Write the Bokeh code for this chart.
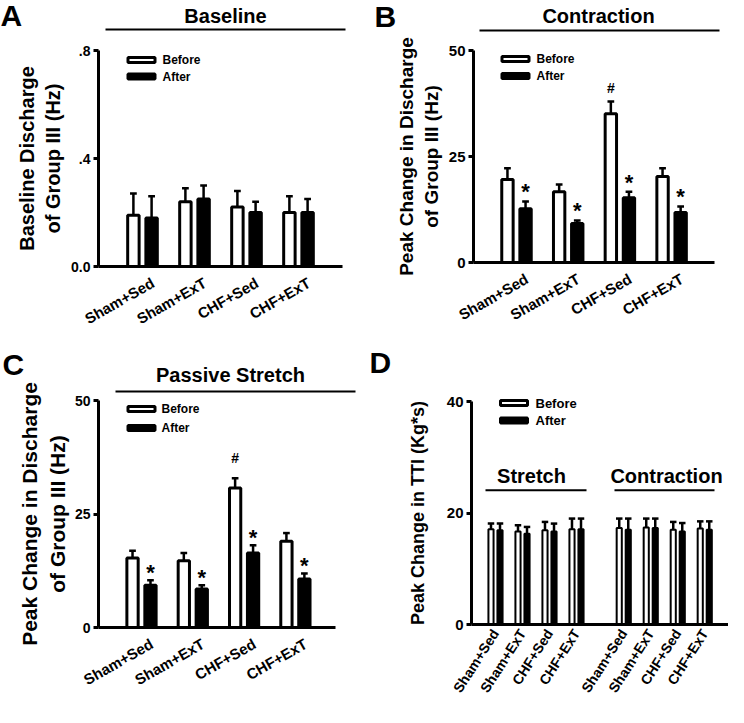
from bokeh.plotting import figure
from bokeh.layouts import column, row
from bokeh.models import Range1d, FixedTicker, Label
from bokeh.embed import file_html
from bokeh.resources import INLINE
from bokeh.core.properties import value

FONT = "Liberation Sans"

# ---------------- data ----------------
groups = ["Sham+Sed", "Sham+ExT", "CHF+Sed", "CHF+ExT"]

# A: baseline discharge (Hz)
a_before = [0.19, 0.24, 0.22, 0.20]
a_before_sem = [0.08, 0.05, 0.06, 0.06]
a_after = [0.18, 0.25, 0.20, 0.20]
a_after_sem = [0.08, 0.05, 0.04, 0.05]

# B: contraction, peak change (Hz)
b_before = [19.6, 16.7, 35.1, 20.3]
b_before_sem = [2.6, 1.7, 2.9, 1.9]
b_after = [12.7, 9.2, 15.3, 11.8]
b_after_sem = [1.7, 0.7, 1.4, 1.4]
b_star_after = [True, True, True, True]
b_hash_before = [False, False, True, False]

# C: passive stretch, peak change (Hz)
c_before = [15.3, 14.7, 30.7, 19.0]
c_before_sem = [1.6, 1.7, 2.2, 1.8]
c_after = [9.3, 8.5, 16.4, 10.7]
c_after_sem = [1.1, 0.8, 1.7, 1.2]
c_star_after = [True, True, True, True]
c_hash_before = [False, False, True, False]

# D: TTI (Kg*s)
d_stretch_before = [17.1, 16.7, 16.9, 17.1]
d_stretch_before_sem = [1.0, 1.1, 1.5, 1.9]
d_stretch_after = [16.9, 16.3, 16.7, 17.1]
d_stretch_after_sem = [1.2, 1.2, 1.4, 1.9]
d_contr_before = [17.3, 17.4, 17.0, 17.2]
d_contr_before_sem = [1.7, 1.6, 1.4, 1.3]
d_contr_after = [17.0, 17.3, 16.7, 17.0]
d_contr_after_sem = [2.0, 1.7, 1.5, 1.5]

y_ticks_a = [0, 0.4, 0.8]
y_tick_labels_a = ["0.0", ".4", ".8"]
y_ticks_bc = [0, 25, 50]
y_ticks_d = [0, 20, 40]

# ---------------- layout helpers ----------------
GAP_D = 0.75      # extra space between the two blocks of panel D
BASE_FIX = 0.3    # em: lift of text drawn with an alphabetic baseline
STAR_FS, HASH_FS, TITLE_FS, LETTER_FS = 22, 14, 20, 30


def make_panel(cfg):
    W, H = cfg["size"]
    ox, oy = cfg["offset"]
    g1, ppu = cfg["g1_px"], cfg["ppu"]
    y0px, ymax, ymaxpx = cfg["y0_px"], cfg["ymax"], cfg["ymax_px"]
    ky = ymax / (y0px - ymaxpx)

    def X(px):
        return 1 + (px - g1) / ppu

    def Y(py):
        return (y0px - py) * ky

    # the frame covers the whole figure; both axes are pinned in place
    x_axis0 = X(cfg["frame_left"])

    p = figure(width=W, height=H, x_range=Range1d(X(ox), X(ox + W)),
               y_range=Range1d(Y(oy + H), Y(oy)), output_backend="svg",
               toolbar_location=None, min_border_left=0,
               min_border_right=0, min_border_top=0, min_border_bottom=0)
    p.grid.visible = False
    p.outline_line_color = None
    p.background_fill_color = "white"
    p.border_fill_color = "white"

    bw, off, lw = cfg["bar_w"], cfg["bar_off"], cfg["bar_lw"]
    capw = cfg["cap_w"]
    pos = cfg["positions"]
    xb = [x - off for x in pos]
    xa = [x + off for x in pos]
    before, bsem = cfg["before"], cfg["before_sem"]
    after, asem = cfg["after"], cfg["after_sem"]

    p.vbar(x=xb, top=before, bottom=0, width=bw, fill_color="white",
           line_color="black", line_width=lw)
    p.vbar(x=xa, top=after, bottom=0, width=bw, fill_color="black",
           line_color="black", line_width=lw)
    for xs, m, s in ((xb, before, bsem), (xa, after, asem)):
        tops = [mi + si for mi, si in zip(m, s)]
        p.segment(x0=xs, y0=m, x1=xs, y1=tops, line_color="black",
                  line_width=cfg["err_lw"])
        p.segment(x0=[x - capw / 2 for x in xs], y0=tops,
                  x1=[x + capw / 2 for x in xs], y1=tops,
                  line_color="black", line_width=cfg["err_lw"])

    # significance markers
    if cfg.get("stars"):
        sx, sy = [], []
        lift = (cfg["star_off"] + BASE_FIX * STAR_FS) * ky
        for x, m, s, flag in zip(xa, after, asem, cfg["stars"]):
            if flag:
                sx.append(x)
                sy.append(m + s + lift)
        p.text(x=sx, y=sy, text=["*"] * len(sx), text_font=value(FONT),
               text_font_size=f"{STAR_FS}px", text_font_style="bold",
               text_align="center", text_baseline="alphabetic",
               text_color="black")
    if cfg.get("hashes"):
        hx, hy = [], []
        lift = (cfg["hash_off"] + BASE_FIX * HASH_FS) * ky
        for x, m, s, flag in zip(xb, before, bsem, cfg["hashes"]):
            if flag:
                hx.append(x)
                hy.append(m + s + lift)
        p.text(x=hx, y=hy, text=["#"] * len(hx), text_font=value(FONT),
               text_font_size=f"{HASH_FS}px", text_font_style="bold",
               text_align="center", text_baseline="alphabetic",
               text_color="black")

    # legend (drawn)
    lx, ly1, ly2, tx = cfg["legend"]
    p.rect(x=[X(lx)], y=[Y(ly1)], width=27, height=5, width_units="screen",
           height_units="screen", fill_color="white", line_color="black",
           line_width=3)
    p.rect(x=[X(lx)], y=[Y(ly2)], width=27, height=5, width_units="screen",
           height_units="screen", fill_color="black", line_color="black",
           line_width=3)
    p.text(x=[X(tx), X(tx)], y=[Y(ly1), Y(ly2)], text=["Before", "After"],
           text_font=value(FONT), text_font_size=cfg["legend_fs"],
           text_font_style="bold", text_align="left", text_baseline="middle",
           text_color="black")

    # titles with underline
    for (ttext, tcx, tby, lx0, lx1, lyy) in cfg["titles"]:
        p.add_layout(Label(x=X(tcx), y=Y(tby - BASE_FIX * TITLE_FS),
                           text=ttext, text_font=FONT,
                           text_font_size=f"{TITLE_FS}px",
                           text_font_style="bold", text_align="center",
                           text_baseline="alphabetic", text_color="black"))
        p.line(x=[X(lx0), X(lx1)], y=[Y(lyy), Y(lyy)], line_color="black",
               line_width=2)

    # panel letter
    lt, lpx, lpy = cfg["letter"]
    p.add_layout(Label(x=X(lpx), y=Y(lpy - BASE_FIX * LETTER_FS), text=lt,
                       text_font=FONT, text_font_size=f"{LETTER_FS}px",
                       text_font_style="bold", text_align="left",
                       text_baseline="alphabetic", text_color="black"))

    # axes
    yax = p.yaxis[0]
    yax.fixed_location = x_axis0
    yax.ticker = FixedTicker(ticks=cfg["yticks"])
    yax.major_label_overrides = {t: l for t, l in zip(cfg["yticks"], cfg["ytick_labels"])}
    yax.bounds = (0, ymax)
    yax.axis_line_width = 3
    yax.axis_line_color = "black"
    yax.major_tick_line_width = 3
    yax.major_tick_out = 5
    yax.major_tick_in = 0
    yax.minor_tick_line_color = None
    yax.major_label_text_font = FONT
    yax.major_label_text_font_style = "bold"
    yax.major_label_text_font_size = cfg["ytick_fs"]
    yax.major_label_text_color = "black"
    yax.major_label_standoff = 3
    yax.axis_label = cfg["ylabel"]
    yax.axis_label_text_font = FONT
    yax.axis_label_text_font_style = "bold"
    yax.axis_label_text_font_size = cfg["ylabel_fs"]
    yax.axis_label_text_color = "black"
    yax.axis_label_standoff = cfg["ylabel_standoff"]

    xax = p.xaxis[0]
    xax.fixed_location = 0
    shift = cfg["xtick_shift"]
    xax.ticker = FixedTicker(ticks=[float(v) + shift for v in pos])
    xax.major_label_overrides = {float(v) + shift: n for v, n in zip(pos, cfg["xlabels"])}
    xax.major_label_orientation = cfg["xangle"]
    xax.major_tick_line_color = None
    xax.major_tick_out = 0
    xax.major_tick_in = 0
    xax.minor_tick_line_color = None
    xax.bounds = (x_axis0, X(cfg["axis_end"]))
    xax.axis_line_width = 3
    xax.axis_line_color = "black"
    xax.major_label_text_font = FONT
    xax.major_label_text_font_style = "bold"
    xax.major_label_text_font_size = cfg["xtick_fs"]
    xax.major_label_text_color = "black"
    xax.major_label_standoff = cfg["xstandoff"]
    return p


pos4 = [1, 2, 3, 4]
pos8 = pos4 + [v + 4 + GAP_D for v in pos4]

pA = make_panel(dict(
    size=(364, 344), offset=(0, 0), g1_px=142, ppu=52, y0_px=266, ymax=0.8,
    ymax_px=50, frame_left=98, axis_end=342,
    positions=pos4, xlabels=groups, before=a_before, before_sem=a_before_sem,
    after=a_after, after_sem=a_after_sem,
    bar_w=0.22, bar_off=0.175, bar_lw=3, cap_w=0.13, err_lw=2.5,
    legend=(141, 59.5, 76, 162), legend_fs="12px",
    titles=[("Baseline", 225, 21.3, 105, 345, 29)],
    letter=("A", 0, 23.5),
    yticks=y_ticks_a, ytick_labels=y_tick_labels_a, ytick_fs="14px",
    ylabel="Baseline Discharge\nof Group III (Hz)", ylabel_fs="20px",
    ylabel_standoff=4, xangle=0.52, xtick_fs="15px", xstandoff=15,
    xtick_shift=0.2))

pB = make_panel(dict(
    size=(364, 344), offset=(380, 0), g1_px=532, ppu=51.7, y0_px=262, ymax=50,
    ymax_px=50, frame_left=489, axis_end=730,
    positions=pos4, xlabels=groups, before=b_before, before_sem=b_before_sem,
    after=b_after, after_sem=b_after_sem,
    bar_w=0.22, bar_off=0.175, bar_lw=3, cap_w=0.13, err_lw=2.5,
    stars=b_star_after, star_off=3, hashes=b_hash_before, hash_off=9,
    legend=(531, 58.5, 75.5, 552), legend_fs="12px",
    titles=[("Contraction", 614, 21.3, 495, 735, 30)],
    letter=("B", 390, 24.5),
    yticks=y_ticks_bc, ytick_labels=[str(v) for v in y_ticks_bc], ytick_fs="15px",
    ylabel="Peak Change in Discharge\nof Group III (Hz)", ylabel_fs="19px",
    ylabel_standoff=4, xangle=0.52, xtick_fs="15px", xstandoff=15,
    xtick_shift=0.2))

pC = make_panel(dict(
    size=(364, 363), offset=(0, 360), g1_px=141, ppu=51.3, y0_px=643, ymax=50,
    ymax_px=416, frame_left=98, axis_end=335,
    positions=pos4, xlabels=groups, before=c_before, before_sem=c_before_sem,
    after=c_after, after_sem=c_after_sem,
    bar_w=0.22, bar_off=0.175, bar_lw=3, cap_w=0.13, err_lw=2.5,
    stars=c_star_after, star_off=1, hashes=c_hash_before, hash_off=16,
    legend=(141, 424.5, 443.5, 161), legend_fs="12px",
    titles=[("Passive Stretch", 230, 396.3, 115, 355, 407)],
    letter=("C", 2, 388.5),
    yticks=y_ticks_bc, ytick_labels=[str(v) for v in y_ticks_bc], ytick_fs="14px",
    ylabel="Peak Change in Discharge\nof Group III (Hz)", ylabel_fs="21px",
    ylabel_standoff=3, xangle=0.52, xtick_fs="15px", xstandoff=15,
    xtick_shift=0.2))

pD = make_panel(dict(
    size=(364, 363), offset=(380, 360), g1_px=511, ppu=27, y0_px=640, ymax=40,
    ymax_px=417, frame_left=487, axis_end=744,
    positions=pos8, xlabels=groups + groups,
    before=d_stretch_before + d_contr_before,
    before_sem=d_stretch_before_sem + d_contr_before_sem,
    after=d_stretch_after + d_contr_after,
    after_sem=d_stretch_after_sem + d_contr_after_sem,
    bar_w=0.19, bar_off=0.167, bar_lw=2, cap_w=0.24, err_lw=2.5,
    legend=(529.5, 418.5, 436, 551), legend_fs="13px",
    titles=[("Stretch", 547, 497, 501, 602, 505.7),
            ("Contraction", 682, 497, 630, 730, 505.7)],
    letter=("D", 385, 386.5),
    yticks=y_ticks_d, ytick_labels=[str(v) for v in y_ticks_d], ytick_fs="15px",
    ylabel="Peak Change in TTI (Kg*s)", ylabel_fs="18px",
    ylabel_standoff=16, xangle=1.0, xtick_fs="14px", xstandoff=6,
    xtick_shift=0.0))

layout = column(row(pA, pB), row(pC, pD))
open("out.html", "w").write(file_html(layout, INLINE))
